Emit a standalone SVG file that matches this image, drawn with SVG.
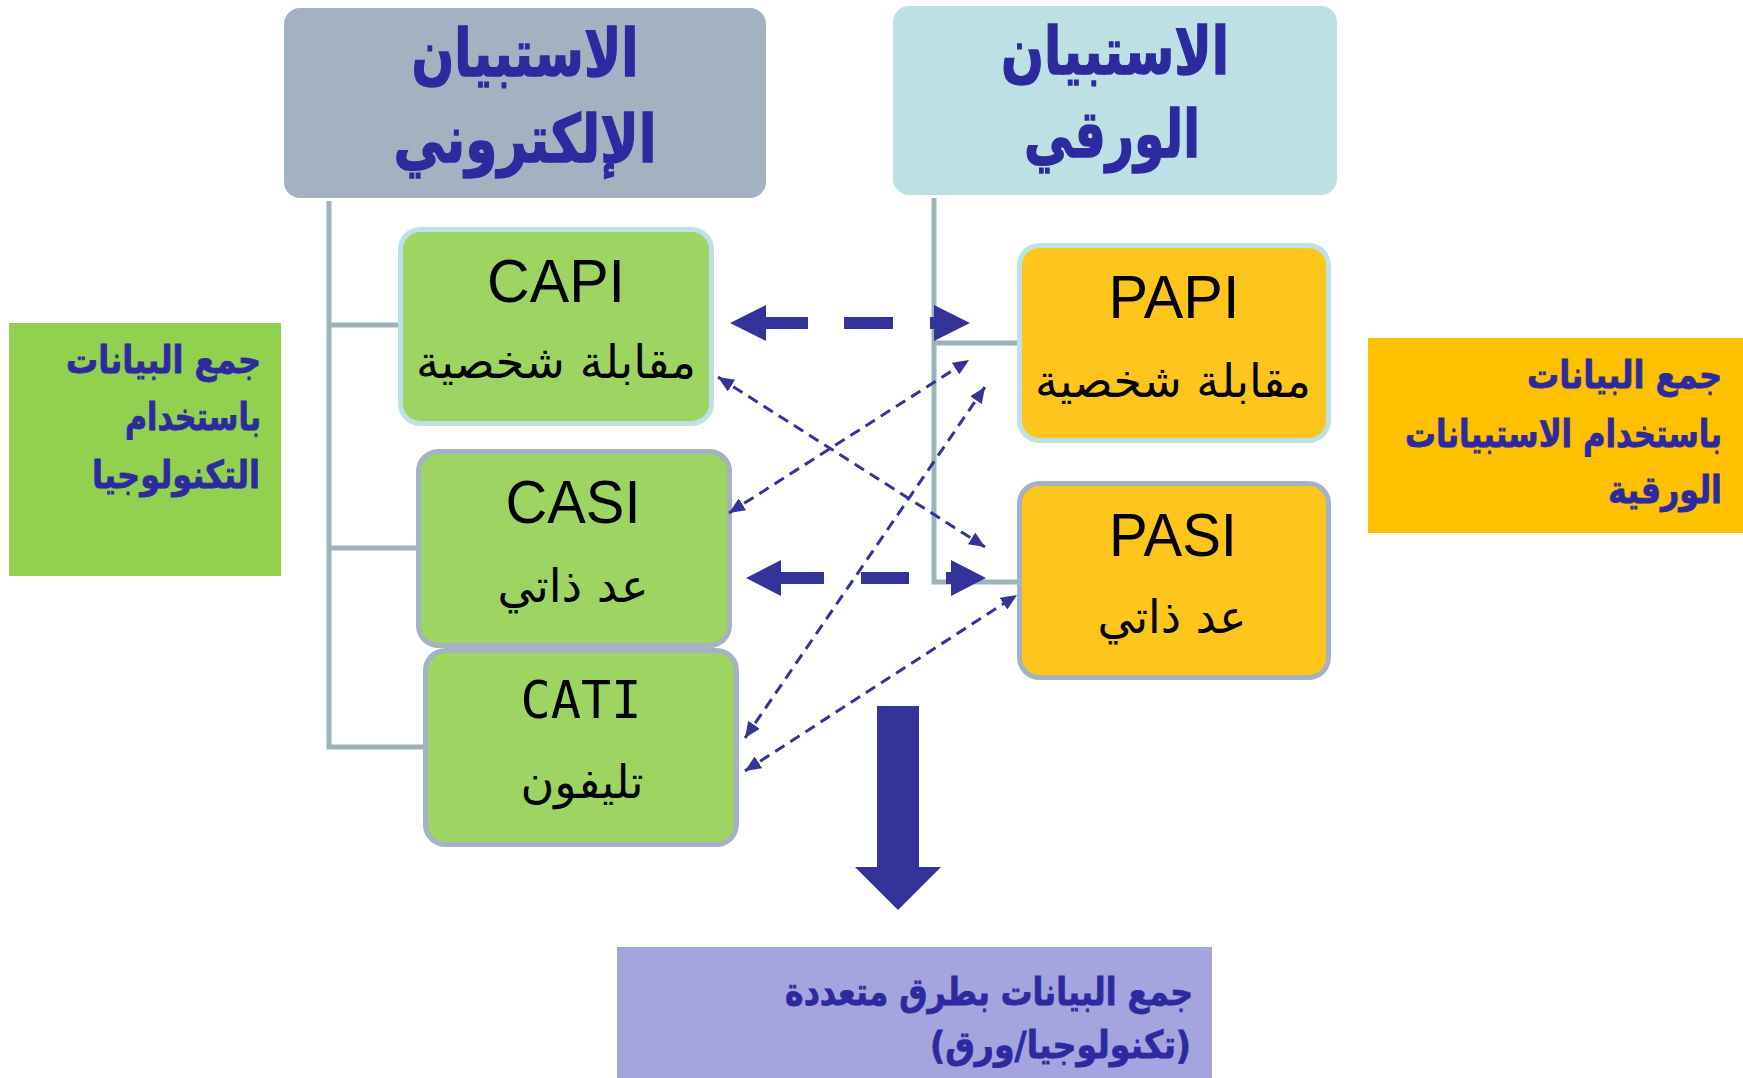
<svg xmlns="http://www.w3.org/2000/svg" width="1743" height="1078" viewBox="0 0 1743 1078">
<style>
.hdr{font-family:"DejaVu Sans","Liberation Sans",sans-serif;font-weight:bold;font-size:66px;fill:#2D2A9F;stroke:#2D2A9F;stroke-width:1.5;text-anchor:middle}
.lbl{font-family:"DejaVu Sans","Liberation Sans",sans-serif;font-weight:bold;font-size:38px;fill:#2D2A9F;stroke:#2D2A9F;stroke-width:0.8;text-anchor:end}
.lat{font-family:"Liberation Sans",Arial,sans-serif;font-size:62px;fill:#000;text-anchor:middle}
.mono{font-family:"DejaVu Sans Mono","Liberation Mono",monospace;font-size:52px;fill:#000;text-anchor:middle}
.ar{font-family:"DejaVu Sans","Liberation Sans",sans-serif;font-size:46px;fill:#000;text-anchor:middle}
.green{fill:#9ED461}
.orange{fill:#FEC51C}
.edgeA{stroke:#BDE1E4;stroke-width:5}
.edgeB{stroke:#A4B2C1;stroke-width:5}
.conn{fill:none;stroke:#99B3B7;stroke-width:5}
.thin{fill:none;stroke:#343399;stroke-width:3;stroke-dasharray:11 7}
.bold{fill:#343399}
</style>
<defs>
<marker id="ah" markerUnits="userSpaceOnUse" markerWidth="17" markerHeight="14" refX="16" refY="7" orient="auto-start-reverse">
<path d="M0,0 L16,7 L0,14 z" fill="#343399"/>
</marker>
</defs>

<g id="connectors">
<path class="conn" d="M329,201 V747 H423 M329,325 H398 M329,548 H416"/>
<path class="conn" d="M934,198 V582 H1017 M934,343 H1017"/>
</g>

<g id="hdr-electronic">
<rect x="284" y="8" width="482" height="190" rx="16" fill="#A3B2C1"/>
<text class="hdr" x="525" y="76" textLength="227" lengthAdjust="spacingAndGlyphs">الاستبيان</text>
<text class="hdr" x="525" y="162" textLength="263" lengthAdjust="spacingAndGlyphs">الإلكتروني</text>
</g>

<g id="hdr-paper">
<rect x="893" y="6" width="444" height="189" rx="16" fill="#BCE0E3"/>
<text class="hdr" x="1115" y="74" textLength="228" lengthAdjust="spacingAndGlyphs">الاستبيان</text>
<text class="hdr" x="1112" y="157" textLength="176" lengthAdjust="spacingAndGlyphs">الورقي</text>
</g>

<g id="label-tech">
<rect x="9" y="323" width="272" height="253" fill="#92D050"/>
<text class="lbl" x="261" y="373" textLength="195" lengthAdjust="spacingAndGlyphs">جمع البيانات</text>
<text class="lbl" x="261" y="430" textLength="136" lengthAdjust="spacingAndGlyphs">باستخدام</text>
<text class="lbl" x="260" y="488" textLength="168" lengthAdjust="spacingAndGlyphs">التكنولوجيا</text>
</g>

<g id="label-paper">
<rect x="1368" y="338" width="375" height="195" fill="#FFC000"/>
<text class="lbl" x="1722" y="388" textLength="195" lengthAdjust="spacingAndGlyphs">جمع البيانات</text>
<text class="lbl" x="1722" y="447" textLength="317" lengthAdjust="spacingAndGlyphs">باستخدام الاستبيانات</text>
<text class="lbl" x="1722" y="503" textLength="114" lengthAdjust="spacingAndGlyphs">الورقية</text>
</g>

<g id="capi">
<rect class="green edgeA" x="400.5" y="229.5" width="311" height="194" rx="20"/>
<text class="lat" x="556" y="302" textLength="138" lengthAdjust="spacingAndGlyphs">CAPI</text>
<text class="ar" x="556" y="378" textLength="280" lengthAdjust="spacingAndGlyphs">مقابلة شخصية</text>
</g>

<g id="casi">
<rect class="green edgeB" x="418.5" y="451.5" width="311" height="194" rx="20"/>
<text class="lat" x="573" y="523" textLength="135" lengthAdjust="spacingAndGlyphs">CASI</text>
<text class="ar" x="573" y="602" textLength="151" lengthAdjust="spacingAndGlyphs">عد ذاتي</text>
</g>

<g id="cati">
<rect class="green edgeB" x="425.5" y="650.5" width="311" height="194" rx="20"/>
<text class="mono" x="581" y="718" textLength="121" lengthAdjust="spacingAndGlyphs">CATI</text>
<text class="ar" x="582" y="798" textLength="123" lengthAdjust="spacingAndGlyphs">تليفون</text>
</g>

<g id="papi">
<rect class="orange edgeA" x="1019.5" y="245.5" width="309" height="195" rx="20"/>
<text class="lat" x="1174" y="318" textLength="131" lengthAdjust="spacingAndGlyphs">PAPI</text>
<text class="ar" x="1173" y="397" textLength="276" lengthAdjust="spacingAndGlyphs">مقابلة شخصية</text>
</g>

<g id="pasi">
<rect class="orange edgeB" x="1019.5" y="483.5" width="309" height="194" rx="20"/>
<text class="lat" x="1173" y="556" textLength="128" lengthAdjust="spacingAndGlyphs">PASI</text>
<text class="ar" x="1172" y="633" textLength="149" lengthAdjust="spacingAndGlyphs">عد ذاتي</text>
</g>

<g id="result">
<rect x="617" y="947" width="595" height="131" fill="#A4A4DE"/>
<text class="lbl" x="1193" y="1005" textLength="408" lengthAdjust="spacingAndGlyphs">جمع البيانات بطرق متعددة</text>
<text class="lbl" x="1191" y="1058" textLength="261" lengthAdjust="spacingAndGlyphs">(تكنولوجيا/ورق)</text>
</g>

<g id="arrows">
<polygon class="bold" points="730,323 766,305 766,341"/>
<rect class="bold" x="765" y="317" width="43" height="12"/>
<rect class="bold" x="844" y="317" width="49" height="12"/>
<rect class="bold" x="930" y="317" width="5" height="12"/>
<polygon class="bold" points="934,305 970,323 934,341"/>

<polygon class="bold" points="746,578 781,560 781,596"/>
<rect class="bold" x="780" y="572" width="44" height="12"/>
<rect class="bold" x="861" y="572" width="48" height="12"/>
<rect class="bold" x="946" y="572" width="6" height="12"/>
<polygon class="bold" points="951,560 986,578 951,596"/>

<line class="thin" x1="718" y1="377" x2="985" y2="547" marker-start="url(#ah)" marker-end="url(#ah)"/>
<line class="thin" x1="729" y1="513" x2="969" y2="360" marker-start="url(#ah)" marker-end="url(#ah)"/>
<line class="thin" x1="745" y1="738" x2="985" y2="387" marker-start="url(#ah)" marker-end="url(#ah)"/>
<line class="thin" x1="745" y1="771" x2="1017" y2="595" marker-start="url(#ah)" marker-end="url(#ah)"/>

<polygon class="bold" points="877,706 919,706 919,867 941,867 898,910 855,867 877,867"/>
</g>
</svg>
